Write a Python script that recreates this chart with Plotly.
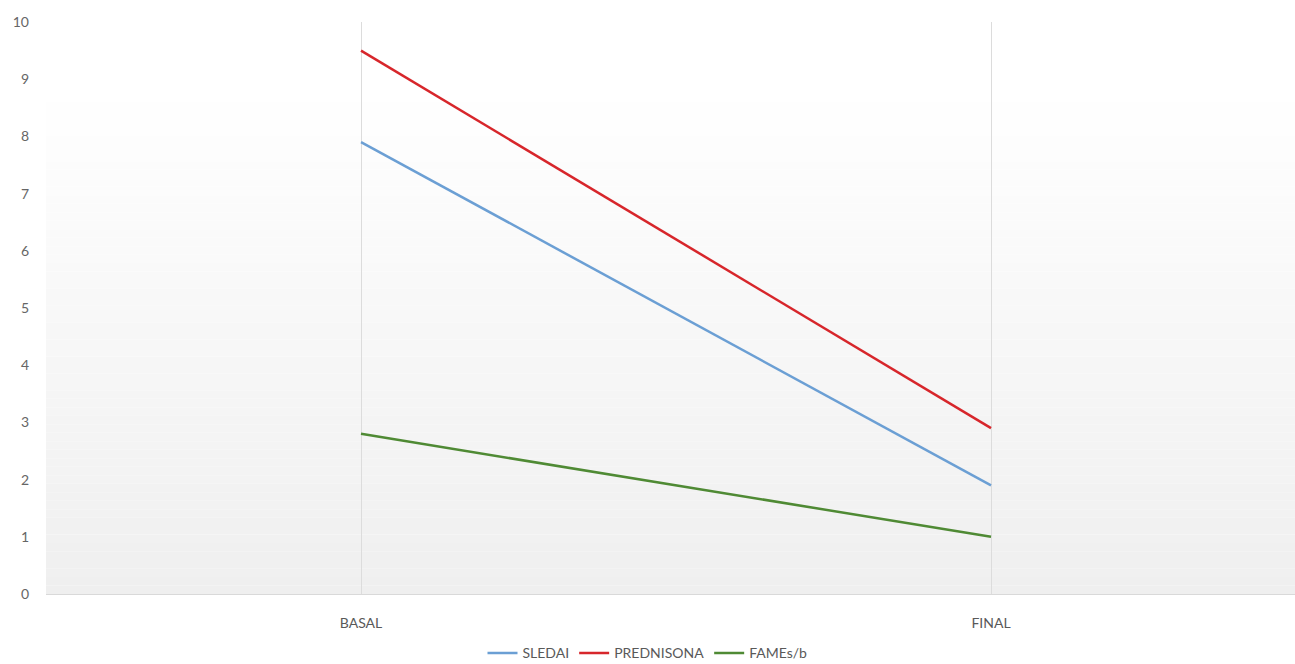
import plotly.graph_objects as go

categories = ["BASAL", "FINAL"]
sledai = [7.9, 1.9]
prednisona = [9.5, 2.9]
fames = [2.8, 1.0]
y_ticks = list(range(0, 11))

series = [
    ("SLEDAI", sledai, "#6b9fd4"),
    ("PREDNISONA", prednisona, "#d7262b"),
    ("FAMEs/b", fames, "#4f8a34"),
]

fig = go.Figure()
for name, vals, color in series:
    fig.add_trace(go.Scatter(
        x=list(range(len(categories))), y=vals, name=name, mode="lines",
        line=dict(color=color, width=2.5),
    ))

# background gradient (white at top to light grey at bottom)
shapes = []
n = 60
top_frac = 0.89
for i in range(n):
    y0 = top_frac * i / n
    y1 = top_frac * (i + 1) / n
    t = 1 - (i + 0.5) / n  # 0 at top, 1 at bottom
    g = int(round(255 - t * 16))
    shapes.append(dict(type="rect", xref="paper", yref="paper", x0=0, x1=1,
                       y0=y0, y1=y1, fillcolor=f"rgb({g},{g},{g})",
                       line=dict(width=0), layer="below"))

fig.update_layout(
    width=1295, height=664,
    margin=dict(l=46, r=0, t=22, b=70, autoexpand=False),
    paper_bgcolor="white", plot_bgcolor="white",
    font=dict(family="Lato, 'Open Sans', sans-serif", size=14, color="#595959"),
    shapes=shapes,
    showlegend=True,
    legend=dict(orientation="h", x=0.5, xanchor="center", xref="container",
                y=0.016, yanchor="middle", yref="container",
                font=dict(size=14, color="#595959"), itemwidth=30,
                bgcolor="rgba(0,0,0,0)", tracegroupgap=0),
    xaxis=dict(
        range=[-0.5, 1.4825], tickmode="array", tickvals=list(range(len(categories))),
        ticktext=categories, showgrid=True, gridcolor="#dcdcdc", gridwidth=1,
        zeroline=False, showline=True, linecolor="#d9d9d9", linewidth=1,
        ticks="", tickfont=dict(size=14, color="#595959"), ticklabelstandoff=16,
    ),
    yaxis=dict(
        range=[0, 10], tickmode="array", tickvals=y_ticks,
        showgrid=False, zeroline=False, showline=False, ticks="",
        tickfont=dict(size=14, color="#666666"), ticklabelstandoff=16,
    ),
)

fig.write_html("out.html")
